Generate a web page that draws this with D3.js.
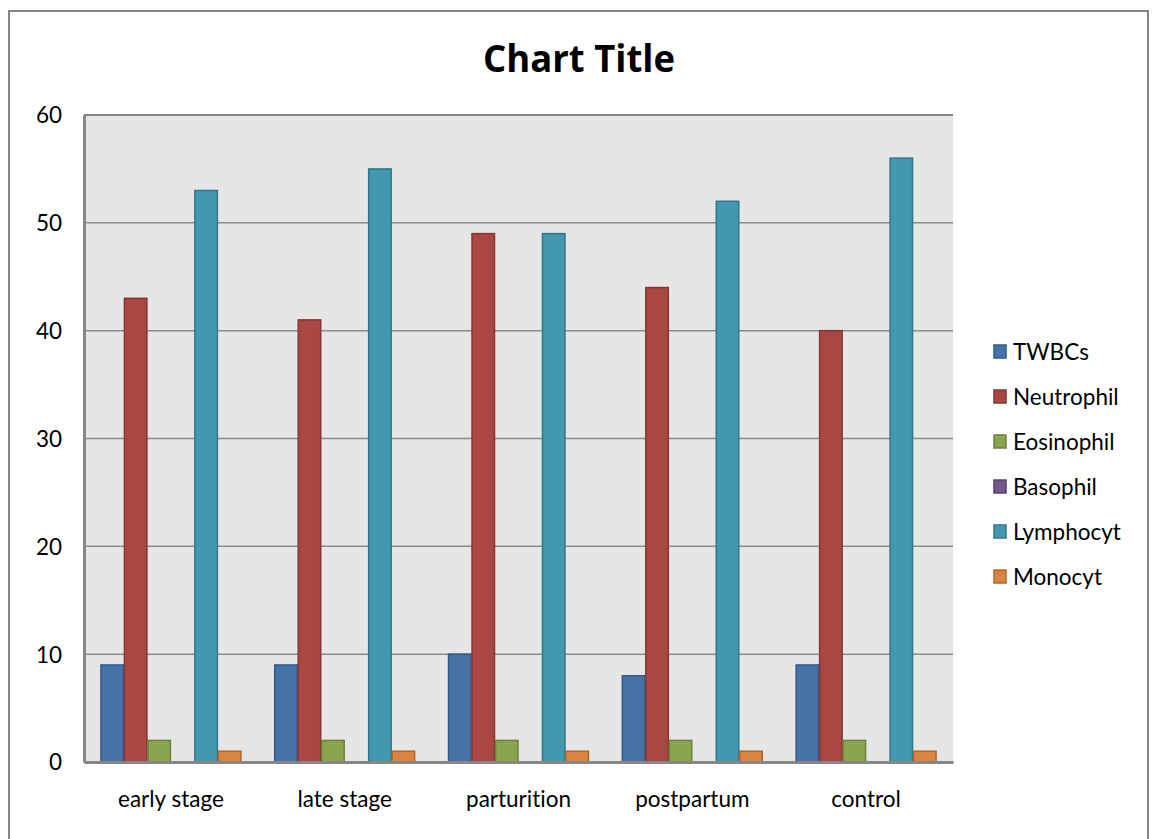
<!DOCTYPE html>
<html>
<head>
<meta charset="utf-8">
<script src="https://cdn.jsdelivr.net/npm/d3@7"></script>
<style>
  html, body { margin: 0; padding: 0; background: #fff; }
  svg { display: block; }
  text { font-family: Lato, "Open Sans", sans-serif; fill: #000; font-variant-ligatures: none; }
</style>
</head>
<body>
<svg id="chart" width="1155" height="839"></svg>
<script>
// Stages along the x axis
const categories = ["early stage", "late stage", "parturition", "postpartum", "control"];
// Cell types (one bar per type in each stage)
const seriesNames = ["TWBCs", "Neutrophil", "Eosinophil", "Basophil", "Lymphocyt", "Monocyt"];
// Counts per cell type, in stage order
const twbcs      = [9, 9, 10, 8, 9];
const neutrophil = [43, 41, 49, 44, 40];
const eosinophil = [2, 2, 2, 2, 2];
const basophil   = [0, 0, 0, 0, 0];
const lymphocyt  = [53, 55, 49, 52, 56];
const monocyt    = [1, 1, 1, 1, 1];
const yTicks = [0, 10, 20, 30, 40, 50, 60];

const seriesValues = [twbcs, neutrophil, eosinophil, basophil, lymphocyt, monocyt];
const fills   = ["#4572A7", "#AA4643", "#89A54E", "#71588F", "#4198AF", "#DB843D"];
const strokes = ["#355987", "#853634", "#6B813B", "#574470", "#31778A", "#B26529"];

const labelFont = "22.5px";

const svg = d3.select("#chart");

// Outer chart frame
svg.append("rect")
  .attr("x", 9).attr("y", 11).attr("width", 1139).attr("height", 840)
  .attr("fill", "#fff").attr("stroke", "#868686").attr("stroke-width", 2);

// Title
svg.append("text")
  .attr("x", 579).attr("y", 72)
  .attr("text-anchor", "middle")
  .style("font-size", "38px").style("font-weight", "bold")
  .style("font-family", "'Open Sans', Lato, sans-serif")
  .attr("textLength", 192).attr("lengthAdjust", "spacingAndGlyphs")
  .text("Chart Title");

const plot = { left: 84, top: 115, right: 953, bottom: 762 };

const x0 = d3.scaleBand().domain(categories).range([plot.left, plot.right]).paddingInner(0).paddingOuter(0);
const x1 = d3.scaleBand().domain(seriesNames).range([0, x0.bandwidth()]).paddingInner(0).paddingOuter(0.7);
const y = d3.scaleLinear().domain([0, 60]).range([plot.bottom, plot.top]);

// Plot background
svg.append("rect")
  .attr("x", plot.left).attr("y", plot.top)
  .attr("width", plot.right - plot.left).attr("height", plot.bottom - plot.top)
  .attr("fill", "#E6E6E6");

// Gridlines
svg.append("g")
  .selectAll("line")
  .data(yTicks)
  .join("line")
  .attr("x1", plot.left).attr("x2", plot.right)
  .attr("y1", d => y(d)).attr("y2", d => y(d))
  .attr("stroke", "#8C8C8C").attr("stroke-width", 1.5);

// Bars
const groups = svg.append("g")
  .selectAll("g")
  .data(categories)
  .join("g")
  .attr("transform", c => `translate(${x0(c)},0)`);

groups.selectAll("rect")
  .data((c, ci) => seriesNames.map((s, si) => ({ s, si, v: seriesValues[si][ci] })).filter(d => d.v > 0))
  .join("rect")
  .attr("x", d => x1(d.s) + 0.5)
  .attr("y", d => y(d.v))
  .attr("width", x1.bandwidth() - 1)
  .attr("height", d => y(0) - y(d.v))
  .attr("fill", d => fills[d.si])
  .attr("stroke", d => strokes[d.si])
  .attr("stroke-width", 1.5);

// Axes
const yAxis = d3.axisLeft(y).tickValues(yTicks).tickSize(0).tickPadding(22);
svg.append("g")
  .attr("transform", `translate(${plot.left},0)`)
  .call(yAxis)
  .call(g => g.select(".domain").attr("stroke", "#868686").attr("stroke-width", 3))
  .call(g => g.selectAll("text").style("font-size", labelFont).style("font-family", "Lato, sans-serif").attr("dy", "0.35em"));

const xAxis = d3.axisBottom(x0).tickSize(0).tickPadding(29);
svg.append("g")
  .attr("transform", `translate(0,${plot.bottom})`)
  .call(xAxis)
  .call(g => g.select(".domain").attr("stroke", "#868686").attr("stroke-width", 3))
  .call(g => g.selectAll("text").style("font-size", labelFont).style("font-family", "Lato, sans-serif"));

// Top border of plot area
svg.append("line")
  .attr("x1", plot.left).attr("x2", plot.right)
  .attr("y1", plot.top).attr("y2", plot.top)
  .attr("stroke", "#868686").attr("stroke-width", 2);

// Legend
const legend = svg.append("g")
  .selectAll("g")
  .data(seriesNames)
  .join("g")
  .attr("transform", (d, i) => `translate(994, ${352 + i * 45})`);

legend.append("rect")
  .attr("x", 0).attr("y", -7).attr("width", 12).attr("height", 13)
  .attr("fill", (d, i) => fills[i])
  .attr("stroke", (d, i) => strokes[i]).attr("stroke-width", 1.5);

legend.append("text")
  .attr("x", 19).attr("y", 0).attr("dy", "0.36em")
  .style("font-size", labelFont)
  .text(d => d);
</script>
</body>
</html>
